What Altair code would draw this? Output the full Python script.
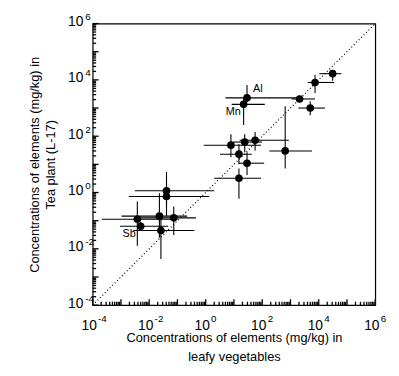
import altair as alt
import pandas as pd

# Concentrations (mg/kg): leafy vegetables (x) vs tea plant L-17 (y)
x_val = [29, 22, 2100, 7400, 31000, 5000, 7.8, 24, 56, 15, 29, 650, 15,
         0.041, 0.041, 0.0038, 0.005, 0.023, 0.026, 0.074]
x_lo = [5.0, 8.3, 1100, 4100, 10500, 1900, 0.85, 9.3, 16, 3.2, 15, 178, 2.0,
        0.0031, 0.0019, 0.00021, 0.00093, 0.00105, 0.0027, 0.004]
x_hi = [1900, 123, 7400, 35000, 63000, 16600, 91, 98, 870, 43, 117, 5750, 91,
        2.0, 1.32, 0.1, 0.047, 0.22, 0.4, 0.45]
y_val = [2300, 1350, 2100, 8100, 16600, 1000, 48, 62, 72, 23, 11, 30, 3.2,
         1.15, 0.72, 0.112, 0.063, 0.145, 0.045, 0.126]
y_lo = [1600, 250, 1600, 3400, 9300, 560, 18, 27, 31, 10, 4.2, 7.1, 0.6,
        0.145, 0.32, 0.0129, 0.045, 0.025, 0.0044, 0.031]
y_hi = [6600, 2240, 2800, 15000, 22400, 1740, 117, 117, 141, 52, 27, 1150, 7.1,
        5.4, 1.6, 0.48, 0.089, 0.95, 0.126, 0.32]
labels = ["Al", "Mn", "", "", "", "", "", "", "", "", "", "", "",
          "", "", "", "Sb", "", "", ""]

diag = [1e-4, 1e6]
label_values = [1e-4, 1e-2, 1, 1e2, 1e4, 1e6]
label_exps = [-4, -2, 0, 2, 4, 6]
label_base = "10"
decades = list(range(-4, 7))
minor_mantissas = [2, 3, 4, 5, 6, 7, 8, 9]
major_ticks = [10.0 ** d for d in decades]
minor_ticks = [m * 10.0 ** d for d in decades[:-1] for m in minor_mantissas]

df = pd.DataFrame({"x": x_val, "xlo": x_lo, "xhi": x_hi,
                   "y": y_val, "ylo": y_lo, "yhi": y_hi, "lab": labels})
ddf = pd.DataFrame({"d": diag})

W, H = 287, 286
FONT = "Liberation Sans"
AXMIN = 1e-4
xs = alt.Scale(type="log", domain=[1e-4, 1e6], nice=False)
ys = alt.Scale(type="log", domain=[1e-4, 1e6], nice=False)

expo = "round(log(datum.value)/LN10)"
exp_expr = " : ".join(f"{e} == {expo} ? '{e}'" for e in label_exps) + " : ''"

common = dict(domain=False, grid=False, ticks=False, labelFont=FONT, labelColor="black",
              labelFlush=False, labelOverlap=False, labelBound=False)

# "10" part of the tick labels, plus titles
x_axis_main = alt.Axis(orient="bottom", values=label_values, labelExpr=f"'{label_base}'",
                       labelFontSize=14, labelPadding=14, labelOffset=-4,
                       title=["Concentrations of elements (mg/kg) in", "leafy vegetables"],
                       titleFont=FONT, titleFontSize=13, titleFontWeight="normal",
                       titleLineHeight=19, titleY=27, titleBaseline="top",
                       titleColor="black", **common)
y_axis_main = alt.Axis(orient="left", values=label_values, labelExpr=f"'{label_base}'",
                       labelFontSize=14, labelPadding=10, labelOffset=-2,
                       title=["Concentrations of elements (mg/kg) in", "Tea plant (L-17)"],
                       titleFont=FONT, titleFontSize=13, titleFontWeight="normal",
                       titleLineHeight=16, titlePadding=10, titleColor="black", **common)
# exponent part (superscript)
x_axis_exp = alt.Axis(orient="bottom", values=label_values, labelExpr=exp_expr,
                      labelFontSize=10, labelPadding=9, labelOffset=5,
                      labelAlign="left", title=None, **common)
y_axis_exp = alt.Axis(orient="left", values=label_values, labelExpr=exp_expr,
                      labelFontSize=10, labelPadding=8, labelOffset=-7,
                      labelAlign="left", title=None, **common)

# inward ticks: rules from the axis edge, length given in pixels via a log-scale factor
px_per_decade = H / 10.0
tick_major_len = 6
tick_minor_len = 3.5

def tick_layer(values, length, channel):
    d = pd.DataFrame({"t": values})
    factor = 10 ** (length / px_per_decade)
    d["a"] = AXMIN
    d["b"] = AXMIN * factor
    if channel == "x":
        enc = dict(x=alt.X("t:Q", scale=xs, axis=None),
                   y=alt.Y("a:Q", scale=ys, axis=None), y2="b:Q")
    else:
        enc = dict(y=alt.Y("t:Q", scale=ys, axis=None),
                   x=alt.X("a:Q", scale=xs, axis=None), x2="b:Q")
    return alt.Chart(d).mark_rule(color="black", strokeWidth=1.3).encode(**enc)

line = alt.Chart(ddf).mark_line(color="black", strokeDash=[1, 2.5], strokeWidth=1.2).encode(
    x=alt.X("d:Q", scale=xs, axis=x_axis_main),
    y=alt.Y("d:Q", scale=ys, axis=y_axis_main),
)

base = alt.Chart(df)
hbars = base.mark_rule(color="black", strokeWidth=1.1).encode(
    x=alt.X("xlo:Q", scale=xs, axis=x_axis_exp), x2="xhi:Q",
    y=alt.Y("y:Q", scale=ys, axis=y_axis_exp),
)
vbars = base.mark_rule(color="black", strokeWidth=1.1).encode(
    x=alt.X("x:Q", scale=xs, axis=None),
    y=alt.Y("ylo:Q", scale=ys, axis=None), y2="yhi:Q",
)
points = base.mark_point(filled=True, color="black", opacity=1, size=60).encode(
    x=alt.X("x:Q", scale=xs, axis=None),
    y=alt.Y("y:Q", scale=ys, axis=None),
)

def lab(name, dx, dy, align):
    return base.transform_filter(alt.datum.lab == name).mark_text(
        font=FONT, fontSize=11, color="black", dx=dx, dy=dy, align=align, baseline="middle"
    ).encode(
        x=alt.X("x:Q", scale=xs, axis=None),
        y=alt.Y("y:Q", scale=ys, axis=None),
        text="lab:N",
    )

chart = alt.layer(
    line, hbars, vbars, points,
    tick_layer(major_ticks, tick_major_len, "x"), tick_layer(minor_ticks, tick_minor_len, "x"),
    tick_layer(major_ticks, tick_major_len, "y"), tick_layer(minor_ticks, tick_minor_len, "y"),
    lab("Al", 6, -9, "left"), lab("Mn", -3, 8, "right"), lab("Sb", -5, 8, "right"),
).resolve_axis(x="independent", y="independent").properties(
    width=W, height=H,
    autosize=alt.AutoSizeParams(type="none"),
    padding={"left": 86, "top": 13, "right": 16, "bottom": 60},
).configure_view(stroke="black", strokeWidth=1.2)

chart.save("out.html", embed_options={"renderer": "svg", "actions": False})
